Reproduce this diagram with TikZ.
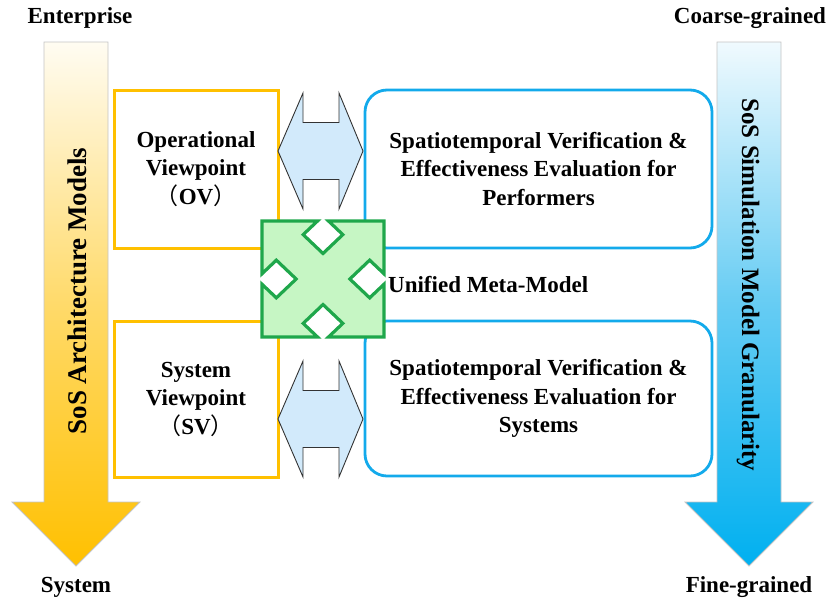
\documentclass[tikz,border=0pt]{standalone}
\usepackage{fontspec}
\setmainfont{Liberation Serif}
\newfontfamily\cjk{Noto Sans CJK SC}
\usetikzlibrary{calc}

\definecolor{amber}{HTML}{FFC000}
\definecolor{amberlight}{HTML}{FFFCF2}
\definecolor{ambermid}{HTML}{FFDA6A}
\definecolor{sky}{HTML}{13AAEB}
\definecolor{skydeep}{HTML}{00B0F0}
\definecolor{skylight}{HTML}{F0FAFE}
\definecolor{skymid}{HTML}{66CCF3}
\definecolor{linkblue}{HTML}{D2EAFB}
\definecolor{metafill}{HTML}{C6F6C4}
\definecolor{metaline}{HTML}{1FA74B}
\definecolor{edgegray}{HTML}{C4C4C4}

\tikzset{
  viewbox/.style={draw=amber, line width=3pt, minimum width=164pt,
    minimum height=158pt, align=center, inner sep=0pt},
  evalbox/.style={draw=sky, line width=2.8pt, rounded corners=22pt,
    minimum width=347pt, minimum height=158pt, align=center, inner sep=0pt},
  linkfill/.style={draw=black!80, line width=0.9pt, fill=linkblue, line join=miter},
  metashape/.style={draw=metaline, line width=3.2pt, fill=metafill, line join=miter},
  scalelabel/.style={inner sep=0pt},
  pics/linkarrow/.style={code={
    \draw[linkfill] (-42.5,0) -- (-17.5,-58) -- (-17.5,-28.5) -- (18.5,-28.5)
      -- (18.5,-58) -- (42.5,0) -- (18.5,58) -- (18.5,28.5) -- (-17.5,28.5)
      -- (-17.5,58) -- cycle;
  }}
}

\begin{document}
\begin{tikzpicture}[x=1pt, y=-1pt, font=\fontsize{23}{28.5}\selectfont\bfseries]
\useasboundingbox (0,0) rectangle (832,603);

% left scale arrow: enterprise -> system
\shadedraw[top color=amberlight, bottom color=amber, middle color=ambermid,
  draw=edgegray, line width=0.8pt]
  (44,42) -- (108,42) -- (108,502) -- (140,502) -- (76,566) -- (12,502)
  -- (44,502) -- cycle;
% right scale arrow: coarse -> fine
\shadedraw[top color=skylight, bottom color=skydeep, middle color=skymid,
  draw=edgegray, line width=0.8pt]
  (717,42) -- (781,42) -- (781,502) -- (813,502) -- (749,566) -- (685,502)
  -- (717,502) -- cycle;

\node[scalelabel] (enterprise) at (80,18) {Enterprise};
\node[scalelabel] (system) at (76,587) {System};
\node[scalelabel] (coarse) at (750,18) {Coarse-grained};
\node[scalelabel] (fine) at (749,587) {Fine-grained};

\node[scalelabel, rotate=90, font=\fontsize{27}{30}\selectfont\bfseries]
  (archlbl) at (77,291) {SoS Architecture Models};
\node[scalelabel, rotate=-90, font=\fontsize{25}{30}\selectfont\bfseries]
  (simlbl) at (748,285) {SoS Simulation Model Granularity};

% viewpoint boxes
\node[viewbox] (ov) at (196,169)
  {Operational\\Viewpoint\\{\mdseries\cjk （}OV{\mdseries\cjk ）}};
\node[viewbox, minimum height=156pt] (sv) at (196,399)
  {System\\Viewpoint\\{\mdseries\cjk （}SV{\mdseries\cjk ）}};

% evaluation boxes
\node[evalbox] (perf) at (538.5,169)
  {Spatiotemporal Verification \&\\Effectiveness Evaluation for\\Performers};
\node[evalbox, minimum height=155pt] (sys) at (538.5,398.5)
  {Spatiotemporal Verification \&\\Effectiveness Evaluation for\\Systems};

% two-way links between viewpoints and evaluations
\pic at (320.5,151) {linkarrow};
\pic at (320.5,419) {linkarrow};

% unified meta-model: four-way diagonal arrow
\begin{scope}[shift={(323,279)}, x=61pt, y=58pt]
\draw[metashape] (0.09,1) -- (1,1) -- (1,0.09) -- (0.765,0.325) -- (0.44,0)
  -- (0.765,-0.325) -- (1,-0.09) -- (1,-1) -- (0.09,-1) -- (0.325,-0.765)
  -- (0,-0.44) -- (-0.325,-0.765) -- (-0.09,-1) -- (-1,-1) -- (-1,-0.09)
  -- (-0.765,-0.325) -- (-0.44,0) -- (-0.765,0.325) -- (-1,0.09) -- (-1,1)
  -- (-0.09,1) -- (-0.325,0.765) -- (0,0.44) -- (0.325,0.765) -- cycle;
\coordinate (meta) at (0,0);
\end{scope}
\node[scalelabel, anchor=west] (metalbl) at (388,285) {Unified Meta-Model};

\end{tikzpicture}
\end{document}
